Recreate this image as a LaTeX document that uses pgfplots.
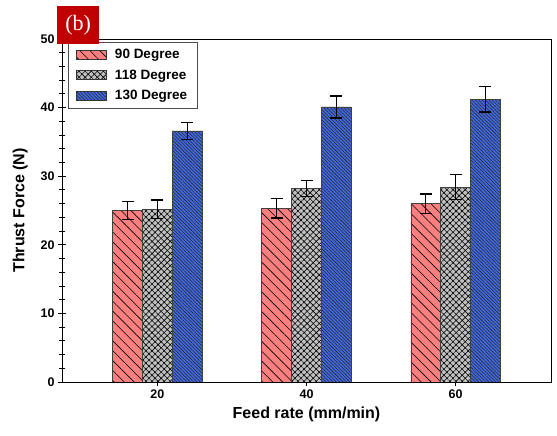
\documentclass[border=0pt]{standalone}
\usepackage{pgfplots}
\pgfplotsset{compat=1.18}
\usepackage{pgfplotstable}
\usepackage{fontspec}
\setmainfont{Liberation Sans}
\newfontfamily\serifb{Liberation Serif}
\usetikzlibrary{patterns.meta}

\definecolor{barred}{RGB}{250,128,128}
\definecolor{bargray}{RGB}{192,192,192}
\definecolor{barblue}{RGB}{65,105,225}
\definecolor{tagred}{RGB}{192,0,0}

% feed rate index, mean thrust force and error for each drill point angle
\pgfplotstableread{
x a ae b be c ce
1 25.0 1.3 25.2 1.35 36.6 1.25
2 25.3 1.4 28.2 1.2 40.1 1.6
3 26.0 1.4 28.4 1.8 41.2 1.85
}\thrust

\begin{document}
\begin{tikzpicture}
\begin{axis}[
    scale only axis,
    width=489pt,
    height=343pt,
    ybar,
    bar width=0.2,
    xmin=0.36, xmax=3.64,
    ymin=0, ymax=50,
    xtick={1,2,3},
    xticklabels={20,40,60},
    ytick={0,10,20,30,40,50},
    minor y tick num=4,
    tick align=center,
    major tick length=8pt,
    minor tick length=6pt,
    xtick pos=bottom,
    ytick pos=left,
    tick style={black, line width=0.9pt},
    axis line style={line width=0.9pt},
    /pgf/number format/assume math mode=true,
    tick label style={font=\fontsize{12.5}{14}\selectfont\bfseries},
    xlabel={Feed rate (mm/min)},
    ylabel={Thrust Force (N)},
    label style={font=\fontsize{16}{18}\selectfont\bfseries},
    xlabel style={yshift=-2pt},
    ylabel style={yshift=6pt},
    legend cell align=left,
    legend style={at={(0,1)}, anchor=north west, xshift=6pt, yshift=-3pt,
        draw=black!70, line width=0.8pt,
        font=\fontsize{13.5}{15}\selectfont\bfseries,
        row sep=5.5pt, inner xsep=8pt, inner ysep=5pt,
        /tikz/every odd column/.append style={column sep=6pt}},
    legend image code/.code={
        \draw[#1, draw=black!80, line width=0.6pt, /tikz/ybar] (0pt,-4.5pt) rectangle (30pt,4.5pt);
    },
    error bars/error bar style={black, line width=1.3pt},
    error bars/error mark options={rotate=90, mark size=6pt, line width=1.3pt, black},
]
\addplot[bar shift=-0.2, draw=black!75, line width=0.6pt, fill=barred,
    postaction={pattern={Lines[angle=-45, distance=7pt, line width=0.6pt]}, pattern color=black},
    error bars/.cd, y dir=both, y explicit]
    table[x=x, y=a, y error=ae] {\thrust};
\addplot[bar shift=0, draw=black!75, line width=0.6pt, fill=bargray,
    postaction={pattern={Hatch[angle=45, distance=4.3pt, line width=0.6pt]}, pattern color=black},
    error bars/.cd, y dir=both, y explicit]
    table[x=x, y=b, y error=be] {\thrust};
\addplot[bar shift=0.2, draw=black!75, line width=0.6pt, fill=barblue,
    postaction={pattern={Lines[angle=-45, distance=2.4pt, line width=0.55pt]}, pattern color=black!85},
    error bars/.cd, y dir=both, y explicit]
    table[x=x, y=c, y error=ce] {\thrust};
\legend{90 Degree, 118 Degree, 130 Degree}
\end{axis}
\node[fill=tagred, text=white, anchor=north west, minimum width=42pt, minimum height=38pt,
    inner sep=0pt, font=\serifb\fontsize{22}{24}\selectfont]
    at ([xshift=-5pt, yshift=33pt]current axis.north west) {(b)};
\path (current axis.south west) ++(-62pt,-54pt) rectangle ([xshift=6pt, yshift=39pt]current axis.north east);
\end{tikzpicture}
\end{document}
